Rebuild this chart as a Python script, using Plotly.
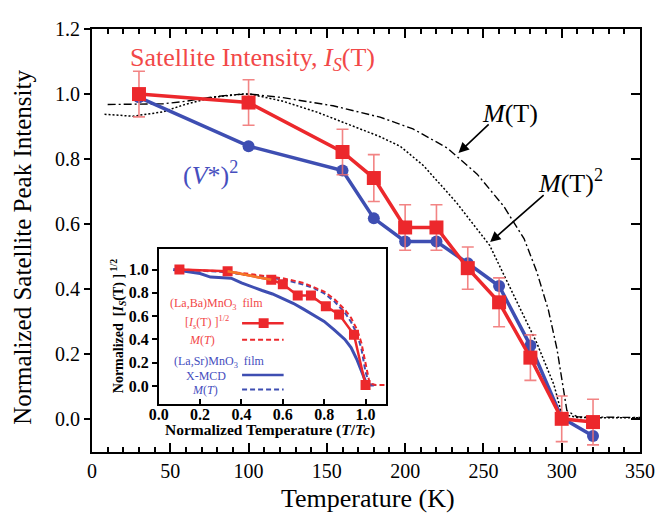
import plotly.graph_objects as go

# ---------------- data ----------------
T_K = [30, 100, 160, 180, 200, 220, 240, 260, 280, 300, 320]
Is_T = [1.0, 0.974, 0.822, 0.742, 0.59, 0.59, 0.465, 0.36, 0.19, 0.002, -0.008]
Is_err = [0.07, 0.07, 0.07, 0.072, 0.07, 0.07, 0.065, 0.075, 0.07, 0.07, 0.07]
V2 = [0.99, 0.84, 0.765, 0.618, 0.547, 0.547, 0.48, 0.41, 0.227, 0.005, -0.051]

MT_T = [10, 30, 45, 60, 75, 90, 101, 122, 154, 184, 205, 227, 246, 263, 276, 284, 291.5, 297, 300.7, 303.3, 310, 330, 350]
MT_v = [0.968, 0.968, 0.97, 0.978, 0.99, 0.998, 1.0, 0.989, 0.964, 0.929, 0.893, 0.834, 0.754, 0.655, 0.555, 0.455, 0.336, 0.216, 0.107, 0.027, 0.008, 0.006, 0.006]

MT2_T = [8, 26, 45, 60, 77, 96, 101, 122, 144, 165, 184, 197, 212, 233, 254, 263, 273, 284, 295, 300, 310, 330, 350]
MT2_v = [0.938, 0.932, 0.945, 0.969, 0.99, 1.0, 1.0, 0.978, 0.944, 0.904, 0.869, 0.839, 0.779, 0.665, 0.535, 0.445, 0.346, 0.236, 0.107, 0.017, 0.006, 0.005, 0.005]

# inset
inset_ticks = [0.0, 0.2, 0.4, 0.6, 0.8, 1.0]
LBMO_t = [0.1, 0.333, 0.544, 0.6, 0.672, 0.736, 0.808, 0.872, 0.944, 1.0]
LBMO_Is = [1.0, 0.985, 0.912, 0.874, 0.776, 0.776, 0.684, 0.615, 0.441, 0.01]
LBMO_Mt = [0.1, 0.2, 0.3, 0.4, 0.5, 0.6, 0.7, 0.75, 0.8, 0.85, 0.9, 0.93, 0.96, 0.98, 1.0, 1.02, 1.05, 1.1]
LBMO_M = [1.0, 0.995, 0.985, 0.97, 0.95, 0.925, 0.885, 0.85, 0.81, 0.745, 0.655, 0.585, 0.48, 0.37, 0.2, 0.02, 0.01, 0.01]
LSMO_xt = [0.07, 0.15, 0.2, 0.25, 0.3, 0.35, 0.4, 0.45, 0.5, 0.55, 0.6, 0.65, 0.7, 0.75, 0.8, 0.85, 0.9, 0.93, 0.96, 0.98, 1.0, 1.02, 1.04]
LSMO_xmcd = [1.0, 0.98, 0.965, 0.935, 0.93, 0.925, 0.885, 0.85, 0.82, 0.79, 0.75, 0.71, 0.66, 0.61, 0.555, 0.48, 0.4, 0.33, 0.22, 0.13, 0.04, 0.01, 0.01]
LSMO_Mt = [0.1, 0.2, 0.3, 0.4, 0.5, 0.6, 0.7, 0.75, 0.8, 0.85, 0.9, 0.93, 0.96, 0.98, 1.0, 1.02, 1.05]
LSMO_M = [1.0, 0.99, 0.98, 0.96, 0.94, 0.915, 0.87, 0.84, 0.795, 0.725, 0.63, 0.55, 0.44, 0.32, 0.12, 0.01, 0.01]

x_ticks = [0, 50, 100, 150, 200, 250, 300, 350]

RED = "rgb(236,40,44)"
RED_ERR = "rgba(240,110,110,0.85)"
BLUE = "rgb(62,78,178)"
RED_TXT = "rgb(242,72,72)"
BLUE_TXT = "rgb(70,78,190)"
ORANGE = "rgb(245,120,40)"
FONT = "Liberation Serif"

fig = go.Figure()

# main curves
fig.add_trace(go.Scatter(x=MT_T, y=MT_v, mode="lines",
                         line=dict(color="black", width=1.4, dash="8px,3px,2px,3px"),
                         hoverinfo="skip"))
fig.add_trace(go.Scatter(x=MT2_T, y=MT2_v, mode="lines",
                         line=dict(color="black", width=1.5, dash="2px,2px"),
                         hoverinfo="skip"))
fig.add_trace(go.Scatter(x=T_K, y=V2, mode="lines+markers",
                         line=dict(color=BLUE, width=3.5),
                         marker=dict(size=12, color=BLUE, symbol="circle")))
fig.add_trace(go.Scatter(x=T_K, y=Is_T, mode="lines+markers",
                         line=dict(color=RED, width=3.5),
                         marker=dict(size=14, color=RED, symbol="square"),
                         error_y=dict(type="data", array=Is_err, color=RED_ERR,
                                      thickness=1.6, width=6)))
# invisible trace to hold the right-hand tick axis
fig.add_trace(go.Scatter(x=T_K, y=V2, yaxis="y2", mode="markers",
                         marker=dict(opacity=0), hoverinfo="skip"))

# inset curves
fig.add_trace(go.Scatter(x=LSMO_Mt, y=LSMO_M, xaxis="x3", yaxis="y3", mode="lines",
                         line=dict(color=BLUE, width=2, dash="5px,3px")))
fig.add_trace(go.Scatter(x=LSMO_xt, y=LSMO_xmcd, xaxis="x3", yaxis="y3", mode="lines",
                         line=dict(color=BLUE, width=3)))
fig.add_trace(go.Scatter(x=LBMO_Mt, y=LBMO_M, xaxis="x3", yaxis="y3", mode="lines",
                         line=dict(color=RED, width=2, dash="5px,3px")))
fig.add_trace(go.Scatter(x=LBMO_t, y=LBMO_Is, xaxis="x3", yaxis="y3", mode="lines+markers",
                         line=dict(color=RED, width=2.5),
                         marker=dict(size=10, color=RED, symbol="square")))
fig.add_trace(go.Scatter(x=LBMO_t[1:3], y=LBMO_Is[1:3], xaxis="x3", yaxis="y3", mode="lines",
                         line=dict(color=ORANGE, width=2.5)))

# the page body adds an 8 px offset; the figure is sized to fill the rest
OFF = 8
W, H = 670 - OFF, 517 - OFF
ML, MR, MT, MB = 91.5 - OFF, 30, 17.6 - OFF, 64.5
PW, PH = W - ML - MR, H - MT - MB


def px(x):
    return (x - OFF - ML) / PW


def py(y):
    return (H - MB - (y - OFF)) / PH


axis_common = dict(showgrid=False, zeroline=False, linecolor="black", linewidth=2,
                   showline=True, tickcolor="black", tickwidth=2,
                   tickfont=dict(family=FONT, size=20, color="black"))

fig.update_layout(
    width=W, height=H,
    margin=dict(l=ML, r=MR, t=MT, b=MB),
    paper_bgcolor="white", plot_bgcolor="white",
    showlegend=False,
    font=dict(family=FONT, color="black"),
    xaxis=dict(range=[0, 350], tickvals=x_ticks, ticks="inside", ticklen=9, mirror="ticks",
               minor=dict(dtick=10, tick0=0, ticks="inside", ticklen=5, tickwidth=1.5,
                          tickcolor="black"),
               **axis_common),
    yaxis=dict(range=[-0.1, 1.2], tick0=0, dtick=0.2, tickformat=".1f", ticks="outside",
               ticklen=6, mirror=True, **axis_common),
    yaxis2=dict(range=[-0.1, 1.2], tick0=0, dtick=0.2, overlaying="y", side="right",
                ticks="inside", ticklen=9, tickwidth=2, tickcolor="black",
                showticklabels=False, showgrid=False, zeroline=False, showline=False),
    xaxis3=dict(domain=[px(158.3), px(386)], anchor="y3", range=[0, 1.1],
                tickvals=inset_ticks, tickformat=".1f", ticks="inside", ticklen=5,
                tickwidth=1.5, tickcolor="black", showline=True, linewidth=1.5,
                linecolor="black", mirror=True, showgrid=False, zeroline=False,
                ticklabelstandoff=-5,
                tickfont=dict(family=FONT, size=16, color="black", weight="bold")),
    yaxis3=dict(domain=[py(402.7), py(243.3)], anchor="x3", range=[-0.15, 1.18],
                tickvals=inset_ticks, tickformat=".1f", ticks="outside", ticklen=5,
                tickwidth=1.5, tickcolor="black", showline=True, linewidth=1.5,
                linecolor="black", mirror=True, showgrid=False, zeroline=False,
                tickfont=dict(family=FONT, size=16, color="black", weight="bold"),
                title=dict(text="Normalized  [<i>I<sub>S</sub></i>(T) ]<sup> 1/2</sup>",
                           font=dict(family=FONT, size=14, color="black", weight="bold"),
                           standoff=2)),
)

ann = []


def label(text, x, y, size, color="black", xanchor="center", **kw):
    ann.append(dict(text=text, x=px(x), y=py(y), xref="paper", yref="paper",
                    xanchor=xanchor, yanchor="middle", showarrow=False,
                    font=dict(family=FONT, size=size, color=color), **kw))


# axis titles
label("Temperature (K)", 368, 500, 26)
label("Normalized Satellite Peak Intensity", 22, 242, 25, textangle=-90)
label("<b>Normalized Temperature (<i>T</i>/<i>Tc</i>)</b>", 270, 430, 15.5)
# main labels
label("Satellite Intensity, <i>I<sub>S</sub></i>(T)", 128, 48, 26, RED_TXT, xanchor="left")
label("(<i>V</i>*)<sup>2</sup>", 210, 166, 26, BLUE_TXT)
label("<i>M</i>(T)", 510, 104, 26)
label("<i>M</i>(T)<sup>2</sup>", 570, 174, 26)
# arrows
ann.append(dict(text="", x=px(458.3), y=py(145), xref="paper", yref="paper",
                ax=31.7, ay=-30, showarrow=True, arrowhead=2, arrowsize=1.3,
                arrowwidth=1.6, arrowcolor="black"))
ann.append(dict(text="", x=px(490), y=py(236.7), xref="paper", yref="paper",
                ax=55, ay=-48.4, showarrow=True, arrowhead=2, arrowsize=1.3,
                arrowwidth=1.6, arrowcolor="black"))
# inset legend texts
leg_font = 12
label("(La,Ba)MnO<sub>3</sub>  film", 168, 300.7, leg_font, RED_TXT, xanchor="left")
label("[<i>I<sub>s</sub></i>(T) ]<sup>1/2</sup>", 183, 319, leg_font, RED_TXT, xanchor="left")
label("<i>M</i>(<i>T</i>)", 187, 337, leg_font, RED_TXT, xanchor="left")
label("(La,Sr)MnO<sub>3</sub>  film", 171.7, 359.5, leg_font, BLUE_TXT, xanchor="left")
label("X-MCD", 183.3, 374, leg_font, BLUE_TXT, xanchor="left")
label("<i>M</i>(<i>T</i>)", 190, 388.3, leg_font, BLUE_TXT, xanchor="left")
fig.update_layout(annotations=ann)

# inset legend samples
shapes = []
lx0, lx1 = px(241.7), px(283.3)
shapes.append(dict(type="line", xref="paper", yref="paper", x0=lx0, x1=lx1, y0=py(320), y1=py(320),
                   line=dict(color=RED, width=2.5)))
shapes.append(dict(type="rect", xref="paper", yref="paper", x0=px(258.3), x1=px(268.3),
                   y0=py(325), y1=py(315), fillcolor=RED, line=dict(width=0)))
shapes.append(dict(type="line", xref="paper", yref="paper", x0=lx0, x1=lx1, y0=py(337), y1=py(337),
                   line=dict(color=RED, width=2, dash="5px,3px")))
shapes.append(dict(type="line", xref="paper", yref="paper", x0=lx0, x1=lx1, y0=py(373.3), y1=py(373.3),
                   line=dict(color=BLUE, width=2.5)))
shapes.append(dict(type="line", xref="paper", yref="paper", x0=lx0, x1=lx1, y0=py(388.3), y1=py(388.3),
                   line=dict(color=BLUE, width=2, dash="5px,3px")))
fig.update_layout(shapes=shapes)

fig.write_html("out.html")
